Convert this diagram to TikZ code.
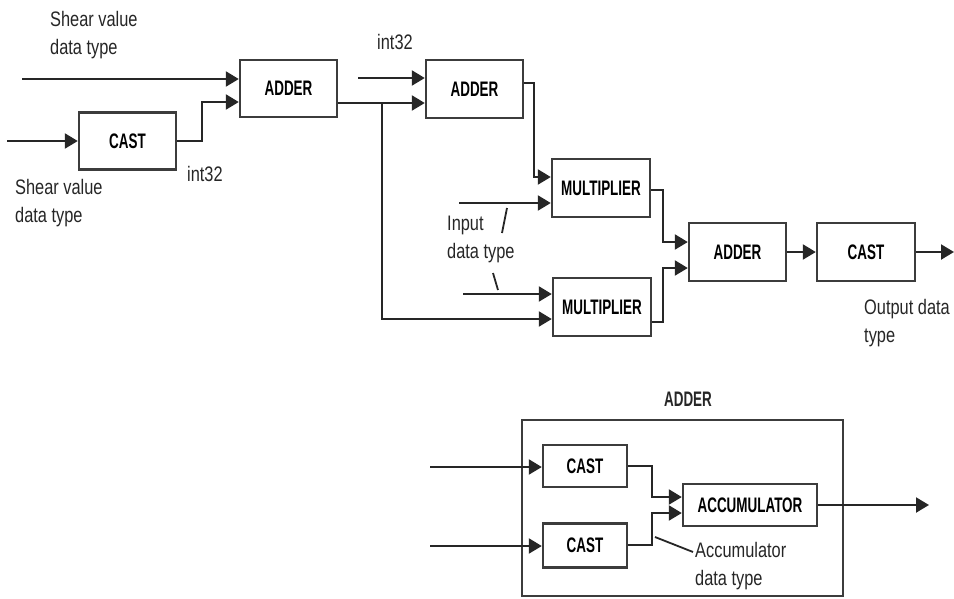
\documentclass[tikz,border=0pt]{standalone}
\usepackage{fontspec}
\setmainfont{Liberation Sans}[FakeStretch=0.78]
\newfontfamily\boxfont{Liberation Sans}[FakeStretch=0.64]
\usetikzlibrary{arrows.meta}
\definecolor{ink}{HTML}{262626}
\definecolor{edge}{HTML}{3C3C3C}
\tikzset{
  blk/.style={draw=edge, line width=2.4pt, inner sep=0pt, fill=white,
    font=\boxfont\bfseries\fontsize{21}{24}\selectfont},
  arr/.style={draw=ink, line width=2.2pt, -{Triangle[length=13pt 0 1,width=15pt 0 1]}},
  lead/.style={draw=ink, line width=1.8pt},
  lbl/.style={inner sep=0pt, align=left, text=ink,
    font=\fontsize{21}{28}\selectfont},
}
\begin{document}
\begin{tikzpicture}[x=1pt,y=-1pt]
\useasboundingbox (0,0) rectangle (954,598);
% blocks
\node[blk, minimum width=97pt, minimum height=57pt] (add1) at (288.5,88.5) {ADDER};
\node[blk, minimum width=97pt, minimum height=57pt] (cast1) at (127.5,141) {CAST};
\node[blk, minimum width=97pt, minimum height=58pt] (add2) at (474.5,89) {ADDER};
\node[blk, minimum width=98pt, minimum height=58pt] (mul1) at (601,188) {MULTIPLIER};
\node[blk, minimum width=98pt, minimum height=58pt] (mul2) at (602,307) {MULTIPLIER};
\node[blk, minimum width=97pt, minimum height=58pt] (add3) at (737.5,252) {ADDER};
\node[blk, minimum width=98pt, minimum height=58pt] (cast3) at (866,252) {CAST};
% expanded adder
\node[blk, minimum width=321pt, minimum height=176pt] (frame) at (682.5,508) {};
\node[inner sep=0pt, text=ink, font=\boxfont\bfseries\fontsize{21}{24}\selectfont] (title) at (688,399) {ADDER};
\node[blk, minimum width=84pt, minimum height=42pt] (casta) at (585,466) {CAST};
\node[blk, minimum width=84pt, minimum height=44pt] (castb) at (585,545.5) {CAST};
\node[blk, minimum width=134pt, minimum height=42pt] (acc) at (750,505) {ACCUMULATOR};
% free ends and junctions
\coordinate (in1) at (22,79);
\coordinate (in2) at (7,141);
\coordinate (j1) at (202,102);
\coordinate (in3) at (358,78);
\coordinate (j2) at (382,103);
\coordinate (j3) at (382,319);
\coordinate (j4) at (534,83);
\coordinate (j5) at (534,177);
\coordinate (in4) at (459,203);
\coordinate (in5) at (463,294);
\coordinate (j6) at (663,190);
\coordinate (j7) at (663,242);
\coordinate (j8) at (663,322);
\coordinate (j9) at (663,268);
\coordinate (out1) at (954,252);
\coordinate (ina) at (430,467);
\coordinate (inb) at (430,546);
\coordinate (j10) at (652,466);
\coordinate (j11) at (652,497);
\coordinate (j12) at (652,545);
\coordinate (j13) at (652,513);
\coordinate (out2) at (929,505);
% connectors
\draw[arr] (in1) -- (add1.west |- in1);
\draw[arr] (in2) -- (cast1.west);
\draw[arr] (cast1.east) -| (j1) -- (add1.west |- j1);
\draw[arr] (in3) -- (add2.west |- in3);
\draw[arr] (add1.east |- j2) -- (add2.west |- j2);
\draw[arr] (j2) -- (j3) -- (mul2.west |- j3);
\draw[arr] (add2.east |- j4) -- (j4) -- (j5) -- (mul1.west |- j5);
\draw[arr] (in4) -- (mul1.west |- in4);
\draw[arr] (in5) -- (mul2.west |- in5);
\draw[arr] (mul1.east |- j6) -- (j6) -- (j7) -- (add3.west |- j7);
\draw[arr] (mul2.east |- j8) -- (j8) -- (j9) -- (add3.west |- j9);
\draw[arr] (add3.east) -- (cast3.west);
\draw[arr] (cast3.east) -- (out1);
\draw[arr] (ina) -- (casta.west |- ina);
\draw[arr] (inb) -- (castb.west |- inb);
\draw[arr] (casta.east |- j10) -- (j10) -- (j11) -- (acc.west |- j11);
\draw[arr] (castb.east |- j12) -- (j12) -- (j13) -- (acc.west |- j13);
\draw[arr] (acc.east) -- (out2);
% labels
\node[lbl, anchor=north west] (l1) at (50,11) {Shear value\\data type};
\node[lbl, anchor=north west] (l2) at (15,179) {Shear value\\data type};
\node[lbl, anchor=north west] (l3) at (187,166) {int32};
\node[lbl, anchor=north west] (l4) at (377,34) {int32};
\node[lbl, anchor=north west] (l5) at (447,216) {Input\\data type};
\node[lbl, anchor=north west] (l6) at (864,299) {Output data\\type};
\node[lbl, anchor=north west] (l7) at (695,542) {Accumulator\\data type};
% leader marks
\coordinate (s1a) at (507,208); \coordinate (s1b) at (502,233);
\coordinate (s2a) at (493,273); \coordinate (s2b) at (498,290);
\coordinate (s3a) at (655,537); \coordinate (s3b) at (693,552);
\draw[lead] (s1a) -- (s1b);
\draw[lead] (s2a) -- (s2b);
\draw[lead] (s3a) -- (s3b);
\end{tikzpicture}
\end{document}
